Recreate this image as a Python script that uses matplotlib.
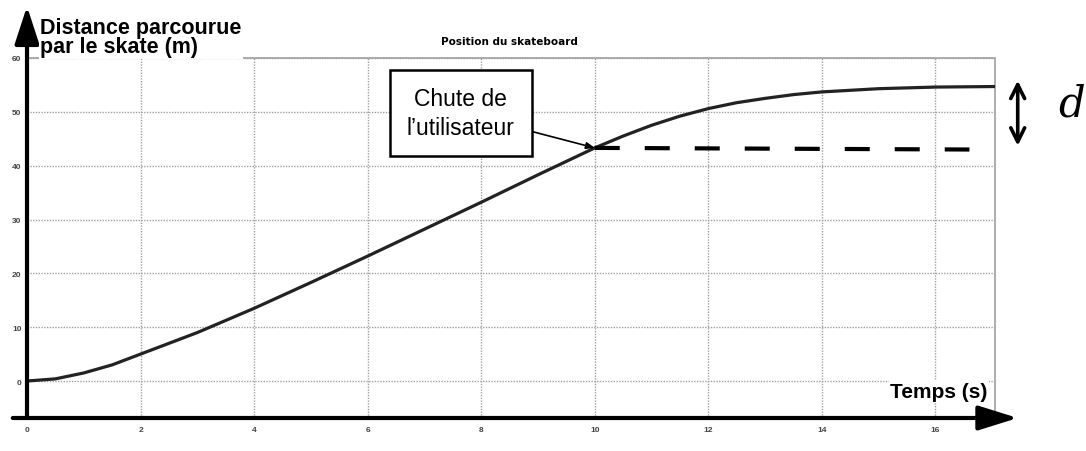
import matplotlib
matplotlib.use('Agg')
import matplotlib.pyplot as plt

# position of the skateboard
temps = [0, 0.5, 1, 1.5, 2, 3, 4, 5, 6, 7, 8, 9, 10, 10.5, 11, 11.5, 12, 12.5, 13, 13.5, 14, 15, 16, 17.05]
distance = [0, 0.4, 1.5, 3.0, 5, 9, 13.5, 18.3, 23.2, 28.2, 33.2, 38.3, 43.3, 45.5, 47.5, 49.2, 50.6, 51.7, 52.5, 53.2, 53.7, 54.3, 54.6, 54.7]

# hand-drawn dashed continuation after the fall
chute_t = [10, 16.6]
chute_d = [43.3, 43.0]

xticks = [0, 2, 4, 6, 8, 10, 12, 14, 16]
yticks = [0, 10, 20, 30, 40, 50, 60]

plt.rcParams['font.family'] = ['Liberation Sans', 'DejaVu Sans']

fig = plt.figure(figsize=(10.86, 4.52), dpi=100)
ax = fig.add_axes([27/1086, 33/452, 968/1086, 360/452])
ax.set_xlim(0, 17.05)
ax.set_ylim(-6.87, 60)

grid_kw = dict(color='#a0a0a0', lw=1, ls=(0, (1, 1)))
ax.set_xticks(xticks)
ax.set_yticks(yticks)
ax.grid(True, **grid_kw)
ax.set_axisbelow(True)
for s in ['left', 'bottom']:
    ax.spines[s].set_visible(False)
for s in ['top', 'right']:
    ax.spines[s].set_color('#a0a0a0')
    ax.spines[s].set_linestyle((0, (1, 1)))
    ax.spines[s].set_linewidth(1.2)
ax.tick_params(length=0, labelsize=6, labelcolor='#444444')
ax.tick_params(axis='x', pad=6)
ax.tick_params(axis='y', pad=4)
for lab in ax.get_xticklabels() + ax.get_yticklabels():
    lab.set_fontweight('bold')

# curve + dashed continuation
ax.plot(temps, distance, color='#222222', lw=2.3, solid_capstyle='round', zorder=3)
ax.plot(chute_t, chute_d, color='black', lw=3, dashes=(6, 6), zorder=3)

# thick axis arrows
ax.annotate('', xy=(17.45, -6.87), xytext=(-0.25, -6.87), annotation_clip=False,
            arrowprops=dict(arrowstyle='-|>,head_length=2.4,head_width=0.75',
                            mutation_scale=10, lw=3, color='black',
                            shrinkA=0, shrinkB=0))
ax.annotate('', xy=(0, 69.6), xytext=(0, -6.87), annotation_clip=False,
            arrowprops=dict(arrowstyle='-|>,head_length=2.3,head_width=0.75',
                            mutation_scale=10, lw=3, color='black',
                            shrinkA=0, shrinkB=0))

# labels
ax.text(0.23, 67.6, 'Distance parcourue\npar le skate (m)', fontsize=15.5,
        fontweight='bold', ha='left', va='top', linespacing=0.9,
        bbox=dict(facecolor='white', edgecolor='none', pad=1), zorder=4)
ax.text(16.92, -1.86, 'Temps (s)', fontsize=15, fontweight='bold',
        ha='right', va='center',
        bbox=dict(facecolor='white', edgecolor='none', pad=1), zorder=4)
ax.text(8.5, 63.2, 'Position du skateboard', fontsize=7.5, fontweight='bold',
        family='DejaVu Sans', ha='center', va='center')

# annotation box
ax.annotate('Chute de\nl\u2019utilisateur', xy=(10, 43.3), xytext=(7.64, 49.8),
            fontsize=16.5, ha='center', va='center', linespacing=1.35,
            bbox=dict(boxstyle='square,pad=0.75', facecolor='white',
                      edgecolor='black', lw=1.8),
            arrowprops=dict(arrowstyle='-|>,head_length=0.5,head_width=0.2',
                            mutation_scale=10, lw=1.2, color='black',
                            shrinkA=0, shrinkB=0), zorder=5)

# hand-drawn d
ax.annotate('', xy=(17.45, 55.8), xytext=(17.45, 43.7), annotation_clip=False,
            arrowprops=dict(arrowstyle='<->,head_length=1.0,head_width=0.5',
                            mutation_scale=10, lw=2.6, color='black',
                            shrinkA=0, shrinkB=0))
ax.text(18.4, 51.5, 'd', fontsize=30, style='italic', family='DejaVu Serif',
        ha='center', va='center', clip_on=False)

plt.savefig('out.png', dpi=100)
